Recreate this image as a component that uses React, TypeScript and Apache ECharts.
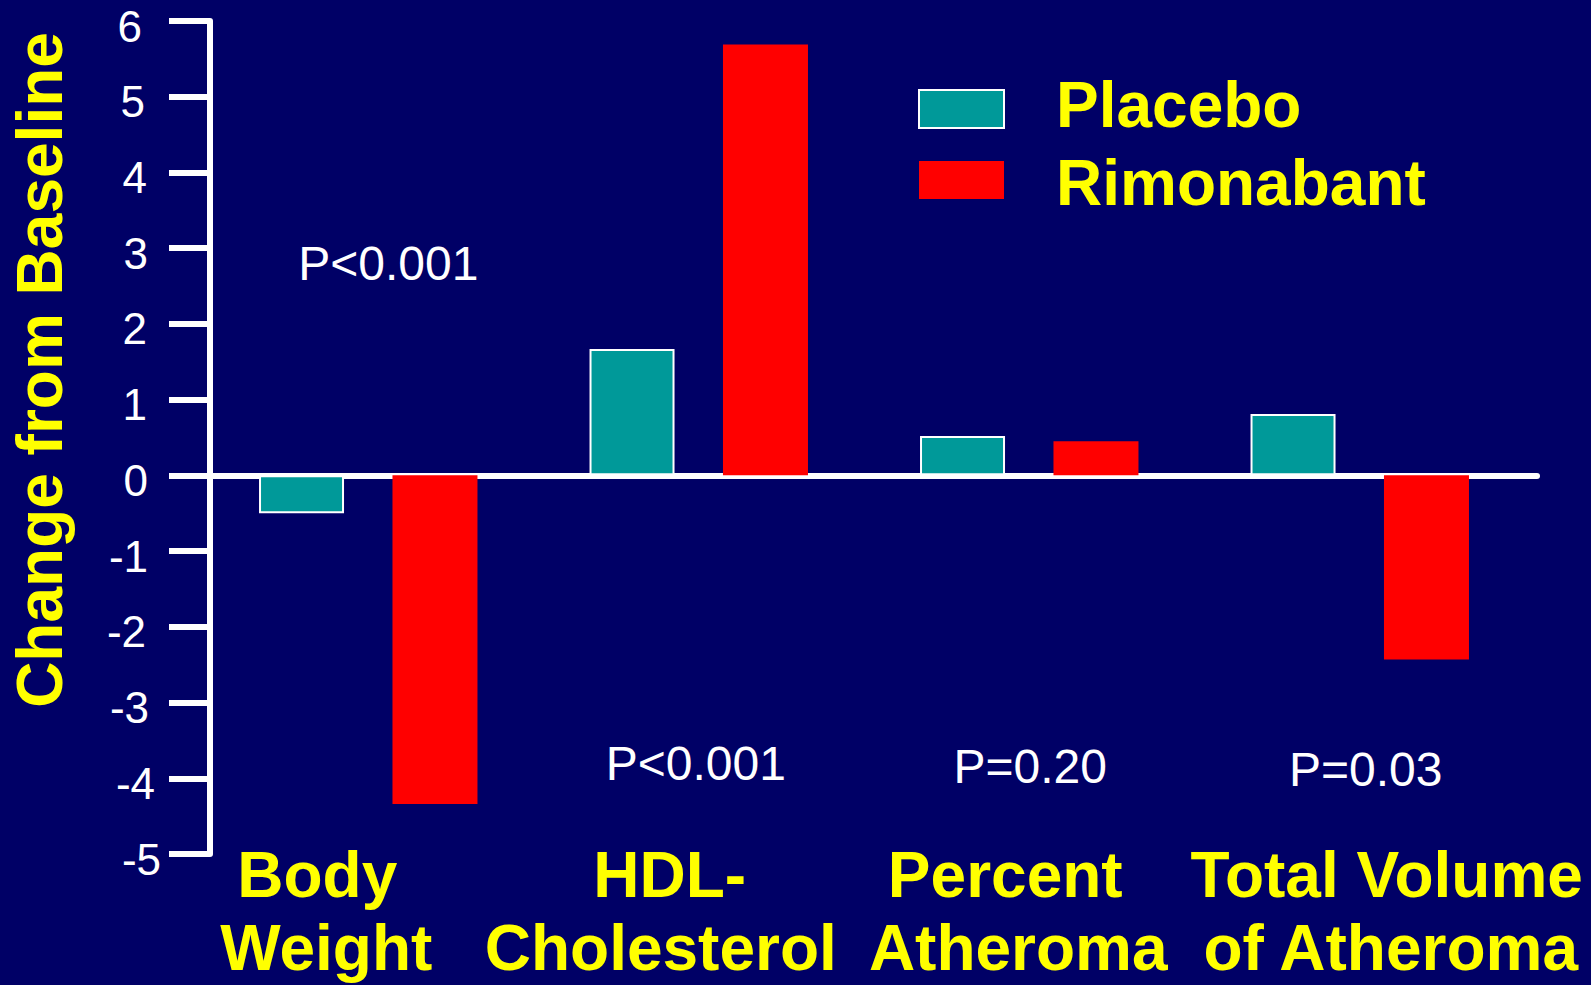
import React, { useEffect, useRef } from "react";
import * as echarts from "echarts";

const categories = ["Body\nWeight", "HDL-\nCholesterol", "Percent\nAtheroma", "Total Volume\nof Atheroma"];
const seriesNames = ["Placebo", "Rimonabant"];
const placebo = [-0.5, 1.67, 0.52, 0.81];
const rimonabant = [-4.34, 5.69, 0.45, -2.43];
const yTicks = [6, 5, 4, 3, 2, 1, 0, -1, -2, -3, -4, -5];
const pTexts = ["P<0.001", "P<0.001", "P=0.20", "P=0.03"];
const pY = [2.8, -3.8, -3.85, -3.89];

// layout tweaks (px)
const pOffsetX = [20, -3, 1, 6];
const catLineShift = [[-51, -42], [-29, -38], [-24, -11], [27, 31]];
const catLineHeights = [76, 70];
const yLabelPadRight = [19, 16, 14, 13, 14, 14, 13, 13, 15, 12, 6, 0];

const FONT = "'Liberation Sans', Arial, Helvetica, sans-serif";
const YELLOW = "#ffff00";
const BIG = 64;

export default function App() {
  const ref = useRef<HTMLDivElement>(null);
  useEffect(() => {
    document.body.style.margin = "0";
    const chart = echarts.init(ref.current!, null, { renderer: "svg" });

    const catRich: Record<string, any> = {};
    catLineShift.forEach((lines, ci) => {
      lines.forEach((s, li) => {
        catRich[`c${ci}_${li}`] = {
          color: YELLOW,
          fontSize: BIG,
          fontWeight: "bold",
          fontFamily: FONT,
          lineHeight: catLineHeights[li],
          padding: s < 0 ? [0, -2 * s, 0, 0] : [0, 0, 0, 2 * s],
        };
      });
    });

    const yRich: Record<string, any> = {};
    yTicks.forEach((t, i) => {
      yRich[`y${i}`] = {
        color: "#ffffff",
        fontSize: 44,
        fontFamily: FONT,
        lineHeight: 44,
        padding: [10, yLabelPadRight[i], 0, 0],
      };
    });

    const legendText = {
      color: YELLOW,
      fontSize: BIG,
      fontWeight: "bold",
      fontFamily: FONT,
      lineHeight: BIG,
    };

    chart.setOption({
      animation: false,
      backgroundColor: "#000066",
      legend: {
        data: seriesNames,
        orient: "vertical",
        left: 918,
        top: 73,
        padding: 0,
        itemWidth: 85,
        itemHeight: 38,
        itemGap: 0,
        icon: "rect",
        selectedMode: false,
        formatter: (name: string) => (name === seriesNames[0] ? `{p|${name}}` : `{r|${name}}`),
        textStyle: {
          ...legendText,
          rich: {
            p: { ...legendText, padding: [0, 0, 8, 47] },
            r: { ...legendText, padding: [6, 0, 0, 47] },
          },
        },
      },
      grid: [
        { left: 203, top: 21, width: 1322, height: 833, outerBoundsMode: "none" },
        { left: 203, top: 21, width: 1334, height: 833, outerBoundsMode: "none" },
      ],
      xAxis: [
        {
          type: "category",
          gridIndex: 0,
          data: categories,
          position: "bottom",
          axisLine: { show: false, onZero: false },
          axisTick: { show: false },
          splitLine: { show: false },
          axisLabel: {
            interval: 0,
            margin: -17,
            formatter: (value: string, index: number) =>
              value
                .split("\n")
                .map((line, li) => `{c${index}_${li}|${line}}`)
                .join("\n"),
            rich: catRich,
          },
        },
        {
          type: "value",
          gridIndex: 1,
          min: 0,
          max: 1,
          position: "top",
          axisLine: { show: true, onZero: true, lineStyle: { color: "#ffffff", width: 6 } },
          axisTick: { show: false },
          axisLabel: { show: false },
          splitLine: { show: false },
        },
      ],
      yAxis: [
        {
          type: "value",
          gridIndex: 0,
          min: -5,
          max: 6,
          interval: 1,
          offset: -7,
          axisLine: { show: true, lineStyle: { color: "#ffffff", width: 6 } },
          axisTick: { show: true, inside: false, length: 41, lineStyle: { color: "#ffffff", width: 6 } },
          splitLine: { show: false },
          axisLabel: {
            margin: 49,
            formatter: (v: number) => {
              const i = yTicks.indexOf(v);
              return `{y${i}|${v}}`;
            },
            rich: yRich,
          },
        },
        {
          type: "value",
          gridIndex: 1,
          min: -5,
          max: 6,
          show: false,
        },
      ],
      graphic: [
        {
          type: "text",
          x: 40,
          y: 370,
          rotation: Math.PI / 2,
          style: {
            text: "Change from Baseline",
            fill: YELLOW,
            font: `bold ${BIG}px ${FONT}`,
            align: "center",
            verticalAlign: "middle",
          },
        },
      ],
      series: [
        {
          name: seriesNames[0],
          type: "bar",
          xAxisIndex: 0,
          yAxisIndex: 0,
          data: placebo,
          barWidth: 85,
          barGap: "57%",
          itemStyle: { color: "#009999", borderColor: "#ffffff", borderWidth: 2 },
          silent: true,
        },
        {
          name: seriesNames[1],
          type: "bar",
          xAxisIndex: 0,
          yAxisIndex: 0,
          data: rimonabant,
          barWidth: 85,
          barGap: "57%",
          itemStyle: { color: "#ff0000" },
          silent: true,
        },
        {
          name: "pvalues",
          type: "scatter",
          xAxisIndex: 0,
          yAxisIndex: 0,
          symbolSize: 1,
          itemStyle: { color: "rgba(0,0,0,0)", opacity: 1 },
          silent: true,
          data: pTexts.map((t, i) => ({
            name: t,
            value: [i, pY[i]],
            label: { offset: [pOffsetX[i], 0] },
          })),
          label: {
            show: true,
            position: "inside",
            formatter: (p: any) => p.name,
            color: "#ffffff",
            opacity: 1,
            fontSize: 48,
            fontFamily: FONT,
          },
        },
      ],
    });
    return () => chart.dispose();
  }, []);
  return (
    <div
      ref={ref}
      style={{ position: "absolute", left: 0, top: 0, width: 1591, height: 985 }}
    />
  );
}
